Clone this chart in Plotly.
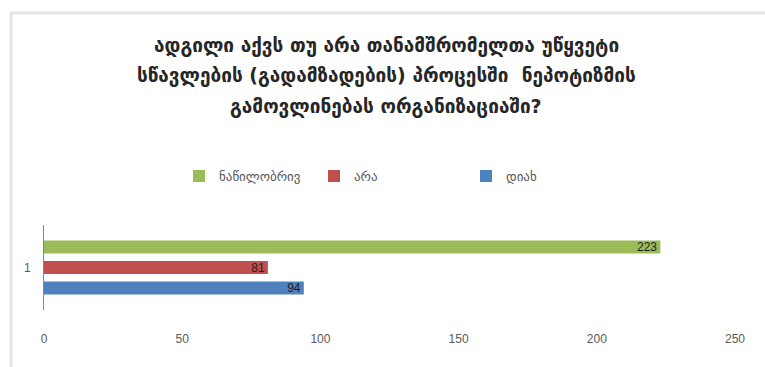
import plotly.graph_objects as go

# Survey answers (single question), one bar per answer
categories = ["1"]
answers = ["დიახ", "არა", "ნაწილობრივ"]
counts = {"დიახ": [94], "არა": [81], "ნაწილობრივ": [223]}
colors = {"დიახ": "#4f81bd", "არა": "#c0504d", "ნაწილობრივ": "#9bbb59"}
legend_ids = {"ნაწილობრივ": "legend", "არა": "legend2", "დიახ": "legend3"}

title_lines = [
    "ადგილი აქვს თუ არა თანამშრომელთა უწყვეტი",
    "სწავლების (გადამზადების) პროცესში  ნეპოტიზმის",
    "გამოვლინებას ორგანიზაციაში?",
]
x_ticks = [0, 50, 100, 150, 200, 250]

GEO_FONT = "DejaVu Sans"

fig = go.Figure()
for name in answers:
    fig.add_trace(go.Bar(
        y=categories,
        x=counts[name],
        name=name,
        orientation="h",
        marker=dict(color=colors[name], line=dict(width=0)),
        text=[str(v) for v in counts[name]],
        textposition="inside",
        insidetextanchor="end",
        textangle=0,
        constraintext="none",
        textfont=dict(family="Liberation Sans", size=12, color="#1e1e1e"),
        legend=legend_ids[name],
        hoverinfo="x+name",
    ))

legend_common = dict(
    orientation="h",
    yanchor="middle",
    xanchor="left",
    y=1.576,
    bgcolor="rgba(0,0,0,0)",
    borderwidth=0,
    font=dict(family=GEO_FONT, size=13, color="#595959"),
    itemwidth=30,
)

fig.update_layout(
    width=765,
    height=367,
    margin=dict(l=44, r=30, t=225, b=57),
    paper_bgcolor="white",
    plot_bgcolor="white",
    barmode="group",
    bargap=0.276,
    bargroupgap=0.366,
    showlegend=True,
    legend=dict(legend_common, x=(179 - 44) / 691),
    legend2=dict(legend_common, x=(314 - 44) / 691),
    legend3=dict(legend_common, x=(466 - 44) / 691),
    xaxis=dict(
        range=[0, 250],
        tickvals=x_ticks,
        ticktext=[str(t) for t in x_ticks],
        showgrid=False,
        zeroline=False,
        showline=False,
        ticks="",
        ticklabelstandoff=20,
        tickfont=dict(family="Liberation Sans", size=12, color="#595959"),
        fixedrange=True,
    ),
    yaxis=dict(
        range=[-0.5, 0.5],
        showgrid=False,
        zeroline=False,
        showline=True,
        linecolor="#868686",
        linewidth=1,
        ticks="",
        ticklabelstandoff=10,
        tickfont=dict(family="Liberation Sans", size=12, color="#595959"),
        fixedrange=True,
    ),
)

# Title, one annotation per line
title_y_px = [45, 75, 106]
for line, ypx in zip(title_lines, title_y_px):
    fig.add_annotation(
        text="<b>" + line + "</b>",
        xref="paper", yref="paper",
        x=(386 - 44) / 691, y=(310 - ypx) / 85,
        xanchor="center", yanchor="middle",
        showarrow=False,
        font=dict(family=GEO_FONT, size=19, color="#262626"),
    )

# Light chart-area frame
fig.add_shape(
    type="rect", xref="paper", yref="paper",
    x0=(11 - 44) / 691, x1=(780 - 44) / 691,
    y0=(310 - 380) / 85, y1=(310 - 13) / 85,
    line=dict(color="#e4e4e4", width=3),
    fillcolor="rgba(0,0,0,0)",
    layer="below",
)

fig.write_html("out.html")
